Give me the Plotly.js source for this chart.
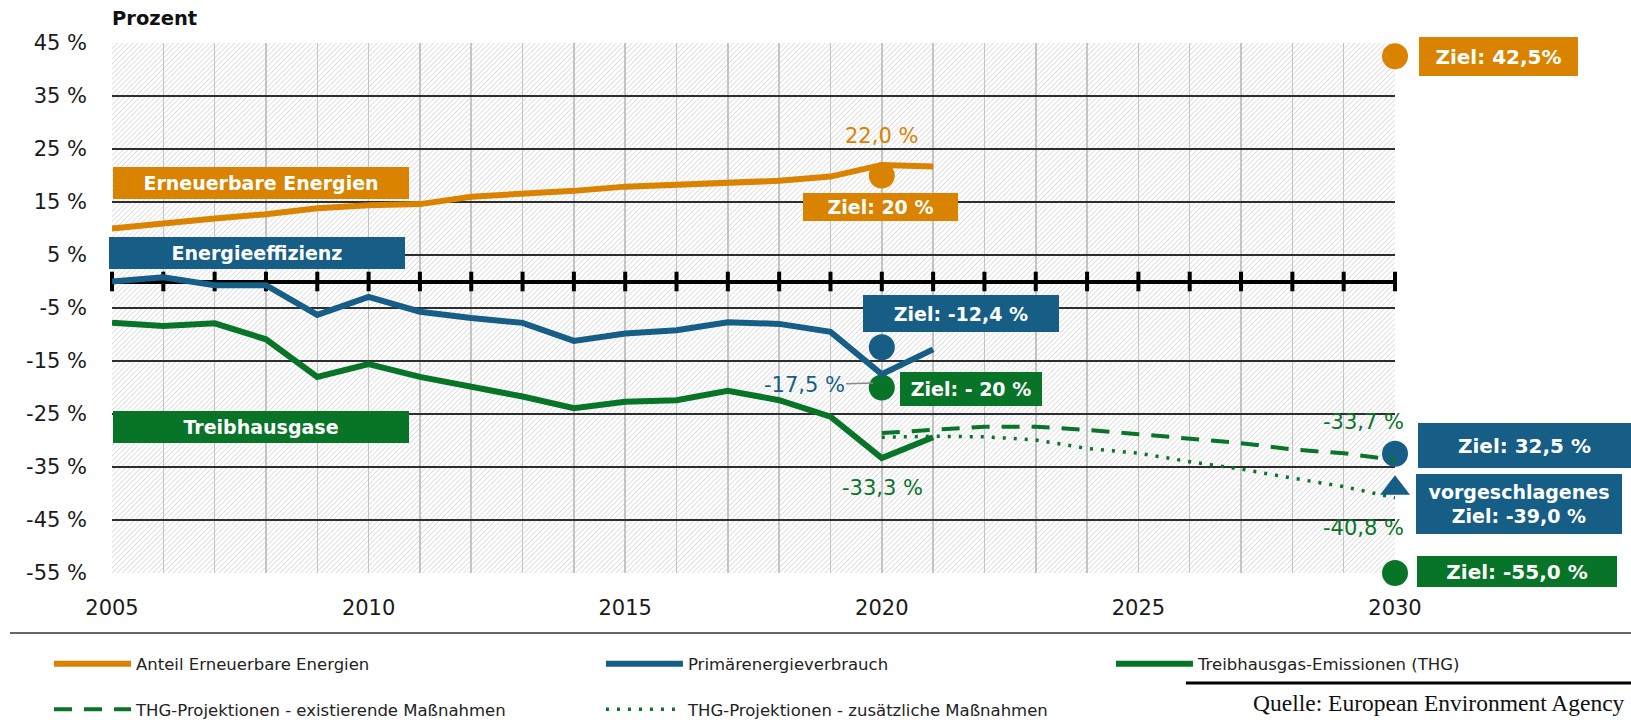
<!DOCTYPE html>
<html><head><meta charset="utf-8">
<script src="https://cdn.plot.ly/plotly-3.0.1.min.js"></script>
<style>html,body{margin:0;padding:0;background:#fff}#chart{width:1631px;height:723px}</style>
</head><body><div id="chart"></div>
<script>
// ---------- data ----------
const years = [2005,2006,2007,2008,2009,2010,2011,2012,2013,2014,2015,2016,2017,2018,2019,2020,2021];
const renewables = [10.0,11.0,11.9,12.7,13.8,14.4,14.6,16.0,16.5,17.1,17.9,18.2,18.5,19.0,19.8,22.0,21.7];
const primaryEnergy = [0.0,0.8,-0.7,-0.7,-6.3,-2.9,-5.7,-6.9,-7.8,-11.2,-9.8,-9.2,-7.7,-8.0,-9.5,-17.5,-12.8];
const ghgEmissions = [-7.8,-8.4,-7.9,-10.9,-18.0,-15.6,-18.0,-19.8,-21.7,-23.9,-22.7,-22.4,-20.6,-22.4,-25.5,-33.3,-29.4];

const projYears = [2020,2021,2022,2023,2024,2025,2026,2027,2028,2029,2030];
const projExisting = [-28.6,-28.0,-27.4,-27.4,-28.0,-28.8,-29.6,-30.5,-31.7,-32.4,-33.7];
const projAdditional = [-29.4,-29.2,-29.3,-29.9,-31.5,-32.4,-34.0,-35.4,-37.1,-38.7,-40.8];

const targetYears = [2020,2030];
const targetRenewables = [20,42.5];
const targetPrimary = [-12.4,-32.5];
const targetGhg = [-20,-55];
const proposedYear = [2030];
const proposedPrimary = [-39.0];

const zeroTickYears = [2005,2006,2007,2008,2009,2010,2011,2012,2013,2014,2015,2016,2017,2018,2019,2020,2021,2022,2023,2024,2025,2026,2027,2028,2029,2030];
const xTickVals = [2005,2010,2015,2020,2025,2030];
const xTickLabels = ["2005","2010","2015","2020","2025","2030"];
const yTickVals = [45,35,25,15,5,-5,-15,-25,-35,-45,-55];
const yTickLabels = ["45 %","35 %","25 %","15 %","5 %","-5 %","-15 %","-25 %","-35 %","-45 %","-55 %"];
const xRange = [2005,2030];
const yRange = [-55,45];

const seriesNames = ["Anteil Erneuerbare Energien","Primärenergieverbrauch","Treibhausgas-Emissionen (THG)",
  "THG-Projektionen - existierende Maßnahmen","THG-Projektionen - zusätzliche Maßnahmen"];

// ---------- style ----------
const ORANGE = '#D98300', BLUE = '#165E86', GREEN = '#077428';
const FONT = 'DejaVu Sans, Noto Sans, sans-serif';

// hatch background (image under the grid)
const PW = 1283, PH = 530;
const hatchSvg = "<svg xmlns='http://www.w3.org/2000/svg' width='"+PW+"' height='"+PH+"'>" +
  "<defs><pattern id='h' width='3.6' height='3.6' patternUnits='userSpaceOnUse' patternTransform='rotate(45)'>" +
  "<line x1='0' y1='-1' x2='0' y2='6' stroke='#c2c2c2' stroke-width='1.0'/></pattern></defs>" +
  "<rect width='100%' height='100%' fill='#fff'/><rect width='100%' height='100%' fill='url(#h)'/></svg>";
const hatchSrc = 'data:image/svg+xml;charset=utf-8,' + encodeURIComponent(hatchSvg);

const traces = [];
// tick marks on zero line
traces.push({x:zeroTickYears, y:zeroTickYears.map(()=>0), mode:'markers',
  marker:{symbol:'line-ns', size:14, line:{width:4,color:'#000'}}, cliponaxis:false, hoverinfo:'skip', showlegend:false});
// target markers
traces.push({x:targetYears, y:targetRenewables, mode:'markers', marker:{symbol:'circle', size:26, color:ORANGE}, cliponaxis:false, showlegend:false, hoverinfo:'skip'});
traces.push({x:targetYears, y:targetPrimary, mode:'markers', marker:{symbol:'circle', size:26, color:BLUE}, cliponaxis:false, showlegend:false, hoverinfo:'skip'});
traces.push({x:proposedYear, y:proposedPrimary, mode:'markers', marker:{symbol:'triangle-up', size:26, color:BLUE}, cliponaxis:false, showlegend:false, hoverinfo:'skip'});
traces.push({x:targetYears, y:targetGhg, mode:'markers', marker:{symbol:'circle', size:26, color:GREEN}, cliponaxis:false, showlegend:false, hoverinfo:'skip'});
// projections
traces.push({x:projYears, y:projExisting, mode:'lines', name:seriesNames[3], line:{color:GREEN, width:4, dash:'18px,12px'},
  legend:'legend', legendgroup:'d', legendrank:2});
traces.push({x:projYears, y:projAdditional, mode:'lines', name:seriesNames[4], line:{color:GREEN, width:3.5, dash:'3px,8px'},
  legend:'legend2', legendgroup:'e', legendrank:2});
// main series
traces.push({x:years, y:renewables, mode:'lines', name:seriesNames[0], line:{color:ORANGE, width:6}, legend:'legend', legendgroup:'a', legendrank:1});
traces.push({x:years, y:primaryEnergy, mode:'lines', name:seriesNames[1], line:{color:BLUE, width:6}, legend:'legend2', legendgroup:'b', legendrank:1});
traces.push({x:years, y:ghgEmissions, mode:'lines', name:seriesNames[2], line:{color:GREEN, width:6}, legend:'legend3', legendgroup:'c', legendrank:1});

function box(text, x, y, w, h, color, xref, size){
  return {text:'<b>'+text+'</b>', x:x, y:y, xref:xref||'x', yref:'y', showarrow:false, xanchor:'center', yanchor:'middle',
    width:w, height:h, bgcolor:color, borderwidth:0, borderpad:0, font:{family:FONT, size:size||19, color:'#fff'}};
}
function label(text, x, y, color){
  return {text:text, x:x, y:y, xref:'x', yref:'y', showarrow:false, xanchor:'center', yanchor:'middle',
    font:{family:FONT, size:21, color:color}};
}
const annotations = [
  box('Erneuerbare Energien', 2007.90, 18.6, 296, 32, ORANGE),
  box('Energieeffizienz', 2007.83, 5.4, 296, 32, BLUE),
  box('Treibhausgase', 2007.90, -27.5, 296, 32, GREEN),
  box('Ziel: 20 %', 2019.97, 14.1, 155, 28, ORANGE, 'x', 19),
  box('Ziel: -12,4 %', 2021.54, -6.04, 196, 37, BLUE),
  box('Ziel: - 20 %', 2021.74, -20.2, 142, 34, GREEN, 'x', 19),
  box('Ziel: 42,5%', 1.0808, 42.45, 159, 39, ORANGE, 'paper', 20),
  box('Ziel: 32,5 %', 1.1009, -30.94, 213, 45, BLUE, 'paper', 20),
  box('vorgeschlagenes<br>Ziel: -39,0 %', 1.0966, -41.98, 206, 60, BLUE, 'paper', 19),
  box('Ziel: -55,0 %', 1.0951, -54.7, 200, 31, GREEN, 'paper', 20),
  label('22,0 %', 2019.99, 27.45, ORANGE),
  label('-33,3 %', 2020.02, -39.0, GREEN),
  label('-33,7 %', 2029.38, -26.6, GREEN),
  label('-40,8 %', 2029.38, -46.6, GREEN),
  {text:'-17,5 %', x:2019.83, y:-19.15, xref:'x', yref:'y', showarrow:true, ax:-69, ay:2, arrowhead:0, arrowwidth:1.5,
    arrowcolor:'#8a8a8a', standoff:0, font:{family:FONT, size:21, color:BLUE}},
  {text:'<b>Prozent</b>', x:-0.0016, y:1.0453, xref:'paper', yref:'paper', xanchor:'left', yanchor:'middle', showarrow:false,
    font:{family:FONT, size:19.5, color:'#111'}},
  {text:'Quelle: European Environment Agency', x:0.8878, y:-0.2453, xref:'paper', yref:'paper', xanchor:'left', yanchor:'middle',
    showarrow:false, font:{family:'Liberation Serif, DejaVu Serif, serif', size:23.5, color:'#111'}}
];

const legendBase = {orientation:'v', traceorder:'grouped', tracegroupgap:21, itemwidth:77, xref:'paper', yref:'paper',
  xanchor:'left', yanchor:'top', y:-0.1387, bgcolor:'rgba(0,0,0,0)', borderwidth:0,
  font:{family:FONT, size:16.5, color:'#222'}, itemclick:false, itemdoubleclick:false};

const layout = {
  width:1631, height:723,
  margin:{l:112, r:236, t:43, b:150, autoexpand:false},
  paper_bgcolor:'#fff', plot_bgcolor:'#fff',
  showlegend:true,
  legend:Object.assign({}, legendBase, {x:-0.0491}),
  legend2:Object.assign({}, legendBase, {x:0.3811}),
  legend3:Object.assign({}, legendBase, {x:0.7786}),
  images:[{source:hatchSrc, xref:'x', yref:'y', x:xRange[0], y:yRange[1], sizex:xRange[1]-xRange[0], sizey:yRange[1]-yRange[0],
    sizing:'stretch', xanchor:'left', yanchor:'top', layer:'below'}],
  xaxis:{range:xRange, tickmode:'array', tickvals:xTickVals, ticktext:xTickLabels, showgrid:true, gridcolor:'#c4c4c4', gridwidth:1.5,
    minor:{dtick:1, tick0:2005, showgrid:true, gridcolor:'#c4c4c4', gridwidth:1.5},
    zeroline:false, showline:false, ticks:'', ticklabelstandoff:20,
    tickfont:{family:FONT, size:21, color:'#1a1a1a'}, fixedrange:true},
  yaxis:{range:yRange, tickmode:'array', tickvals:yTickVals, ticktext:yTickLabels, showgrid:true, gridcolor:'#2e2e2e', gridwidth:1.3,
    zeroline:true, zerolinecolor:'#000', zerolinewidth:4, showline:false, ticks:'', ticklabelstandoff:24,
    tickfont:{family:FONT, size:21, color:'#1a1a1a'}, fixedrange:true},
  annotations:annotations,
  shapes:[
    {type:'line', xref:'paper', yref:'paper', x0:-0.0795, x1:1.184, y0:-0.1132, y1:-0.1132, line:{color:'#333', width:1.5}},
    {type:'line', xref:'paper', yref:'paper', x0:0.837, x1:1.184, y0:-0.2075, y1:-0.2075, line:{color:'#000', width:3}}
  ],
  hovermode:false
};

Plotly.newPlot('chart', traces, layout, {displayModeBar:false, staticPlot:true});
</script></body></html>
